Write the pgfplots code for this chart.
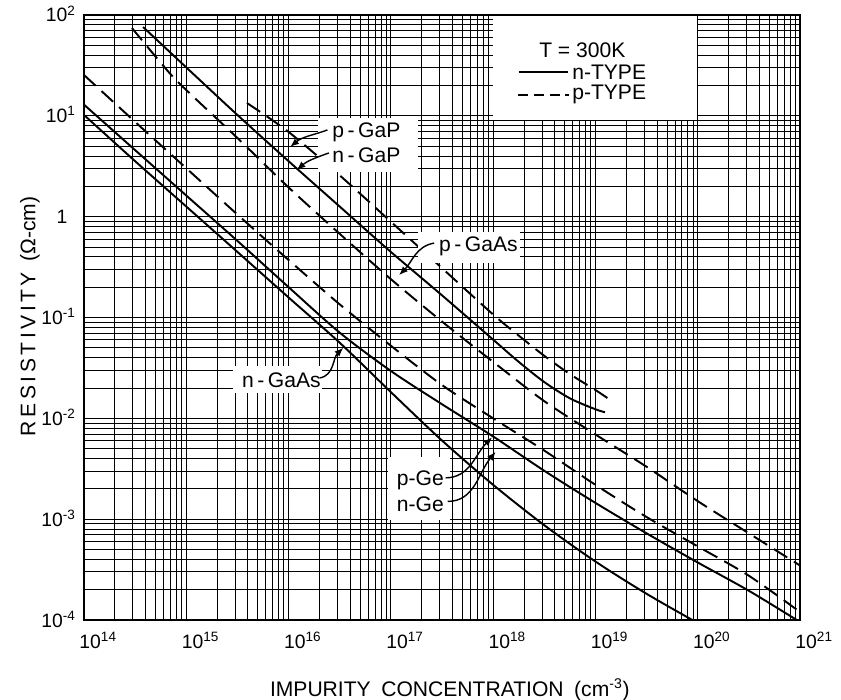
\documentclass[border=0pt]{standalone}
\usepackage{fontspec}
\setmainfont{Liberation Sans}
\usepackage{pgfplots}
\pgfplotsset{compat=1.18}
\usetikzlibrary{arrows.meta}

% minor grid positions of the log paper (2..9 in every decade)
\def\minorx{}
\foreach \e in {14,...,20}{\foreach \k in {2,...,9}{%
  \ifx\minorx\empty\xdef\minorx{\k e\e}\else\xdef\minorx{\minorx,\k e\e}\fi}}
\def\minory{}
\foreach \e in {-4,...,1}{\foreach \k in {2,...,9}{%
  \ifx\minory\empty\xdef\minory{\k e\e}\else\xdef\minory{\minory,\k e\e}\fi}}
\pgfplotsset{logpaper/.style/.expanded={minor xtick={\minorx}, minor ytick={\minory}}}

\tikzset{ntype/.style={black, line width=1.1pt},
         ptype/.style={black, line width=1.1pt, dash pattern=on 9pt off 4.5pt},
         lead/.style={black, line width=0.8pt, -{Latex[length=5pt,width=4pt]}}}

\begin{document}
\begin{tikzpicture}
\begin{axis}[name=ax, scale only axis, width=14.32cm, height=12.1cm,
    xmode=log, ymode=log, xmin=1e14, xmax=1e21, ymin=1e-4, ymax=1e2,
    logpaper, grid=both,
    major grid style={black, line width=0.7pt},
    minor grid style={black, line width=0.5pt},
    axis line style={line width=0.8pt},
    major tick length=0pt, minor tick length=0pt,
    xtick={1e14,1e15,1e16,1e17,1e18,1e19,1e20,1e21},
    xticklabels={10\textsuperscript{14},10\textsuperscript{15},10\textsuperscript{16},10\textsuperscript{17},
                 10\textsuperscript{18},10\textsuperscript{19},10\textsuperscript{20},10\textsuperscript{21}},
    ytick={1e-4,1e-3,1e-2,1e-1,1,1e1,1e2},
    yticklabels={10\textsuperscript{-4},10\textsuperscript{-3},10\textsuperscript{-2},10\textsuperscript{-1},
                 1\phantom{\textsuperscript{1}},10\textsuperscript{1},10\textsuperscript{2}},
    xticklabel style={font=\fontsize{11}{13}\selectfont, anchor=base west, xshift=-0.215cm, yshift=-0.56cm},
    yticklabel style={font=\fontsize{11}{13}\selectfont, anchor=base east, xshift=-0.04cm, yshift=-0.14cm},
  ]
% n-GaAs
\addplot[ntype, smooth] coordinates {(1e14,10.2)(3.16e14,3.55)(1e15,1.26)(3.16e15,0.447)(1e16,0.158)
  (3.16e16,0.0562)(1e17,0.0182)(3.16e17,6.03e-3)(1e18,2.19e-3)(3.16e18,8.71e-4)(1e19,3.80e-4)
  (3.16e19,1.82e-4)(1e20,9.33e-5)};
% n-Ge
\addplot[ntype, smooth] coordinates {(1e14,12.9)(3.16e14,4.57)(1e15,1.62)(3.16e15,0.575)(1e16,0.200)
  (3.16e16,0.0708)(1e17,0.0295)(3.16e17,0.0138)(1e18,6.61e-3)(3.16e18,3.02e-3)(1e19,1.45e-3)
  (3.16e19,7.24e-4)(1e20,3.72e-4)(3.16e20,1.95e-4)(1e21,9.55e-5)};
% p-Ge
\addplot[ptype, smooth] coordinates {(1e14,25.4)(3.16e14,8.71)(1e15,3.02)(3.16e15,1.05)(1e16,0.372)
  (3.16e16,0.135)(1e17,0.0525)(3.16e17,0.0214)(1e18,0.0100)(3.16e18,4.79e-3)(1e19,2.19e-3)
  (3.16e19,1.05e-3)(1e20,5.37e-4)(3.16e20,2.75e-4)(1e21,1.20e-4)};
% p-GaAs
\addplot[ptype, smooth] coordinates {(2.94e14,74.3)(6.92e14,26.3)(1.17e15,15.5)(3.16e15,6.03)(1e16,1.95)
  (3.16e16,0.676)(1e17,0.240)(3.16e17,0.0912)(1e18,0.0363)(3.16e18,0.0148)(1e19,6.92e-3)
  (3.16e19,3.31e-3)(1e20,1.51e-3)(3.16e20,7.24e-4)(1e21,3.47e-4)};
% n-GaP
\addplot[ntype, smooth] coordinates {(3.78e14,76.0)(1e15,30.2)(3.16e15,10.2)(1e16,3.55)(3.16e16,1.26)
  (1e17,0.447)(3.16e17,0.166)(1e18,0.0603)(1.78e18,0.0363)(3.16e18,0.0229)(5.62e18,0.0158)
  (1e19,0.0123)(1.24e19,0.0115)};
% p-GaP
\addplot[ptype, smooth] coordinates {(3.92e15,13.4)(1e16,6.92)(3.16e16,2.57)(1e17,0.891)(3.16e17,0.309)
  (1e18,0.107)(1.78e18,0.0661)(3.16e18,0.0417)(5.62e18,0.0275)(1e19,0.0191)(1.32e19,0.0158)};

% white label boxes on the paper
\fill[white] (rel axis cs:0.571,0.826) rectangle (rel axis cs:0.856,1);
\fill[white] (rel axis cs:0.327,0.740) rectangle (rel axis cs:0.466,0.830);
\fill[white] (rel axis cs:0.466,0.590) rectangle (rel axis cs:0.609,0.641);
\fill[white] (rel axis cs:0.208,0.375) rectangle (rel axis cs:0.332,0.420);
\fill[white] (rel axis cs:0.425,0.165) rectangle (rel axis cs:0.511,0.269);

% legend
\node[font=\fontsize{12}{14}\selectfont] at (rel axis cs:0.696,0.942) {T = 300K};
\draw[ntype] (rel axis cs:0.607,0.906) -- (rel axis cs:0.676,0.906);
\node[anchor=west, font=\fontsize{12}{14}\selectfont, inner sep=1pt] at (rel axis cs:0.679,0.906) {n-TYPE};
\draw[ptype, dash pattern=on 6pt off 3pt] (rel axis cs:0.606,0.868) -- (rel axis cs:0.678,0.868);
\node[anchor=west, font=\fontsize{12}{14}\selectfont, inner sep=1pt] at (rel axis cs:0.679,0.868) {p-TYPE};

% curve labels
\begin{scope}[every node/.style={anchor=west, font=\fontsize{12}{14}\selectfont, inner sep=1pt}]
\node at (rel axis cs:0.344,0.806) {p\,-\,GaP};
\node at (rel axis cs:0.344,0.769) {n\,-\,GaP};
\node at (rel axis cs:0.493,0.618) {p\,-\,GaAs};
\node at (rel axis cs:0.218,0.397) {n\,-\,GaAs};
\node at (rel axis cs:0.434,0.231) {p-Ge};
\node at (rel axis cs:0.434,0.192) {n-Ge};
\end{scope}
\draw[lead] (rel axis cs:0.340,0.810) to[out=200,in=40] (rel axis cs:0.288,0.782);
\draw[lead] (rel axis cs:0.342,0.772) to[out=200,in=40] (rel axis cs:0.297,0.744);
\draw[lead] (rel axis cs:0.489,0.623) to[out=190,in=45] (rel axis cs:0.440,0.570);
\draw[lead] (rel axis cs:0.329,0.400) to[out=10,in=225] (rel axis cs:0.362,0.450);
\draw[lead] (rel axis cs:0.505,0.235) to[out=0,in=225] (rel axis cs:0.570,0.302);
\draw[lead] (rel axis cs:0.508,0.196) to[out=0,in=230] (rel axis cs:0.575,0.278);

\draw[line width=0.8pt] (rel axis cs:0,0) rectangle (rel axis cs:1,1);
\end{axis}
\node[rotate=90, font=\fontsize{12}{14}\selectfont] at ([shift={(-1.08cm,0.502*12.1cm)}]ax.south west)
  {R\,E\,S\,I\,S\,T\,I\,V\,I\,T\,Y\enspace (Ω-cm)};
\node[font=\fontsize{12}{14}\selectfont] at ([shift={(0.511*14.32cm,-1.40cm)}]ax.south west)
  {IMPURITY\enspace CONCENTRATION\enspace (cm\textsuperscript{-3})};
\pgfresetboundingbox
\path ([shift={(-1.68cm,-1.6cm)}]ax.south west) rectangle ([shift={(0.82cm,0.3cm)}]ax.north east);
\end{tikzpicture}
\end{document}
